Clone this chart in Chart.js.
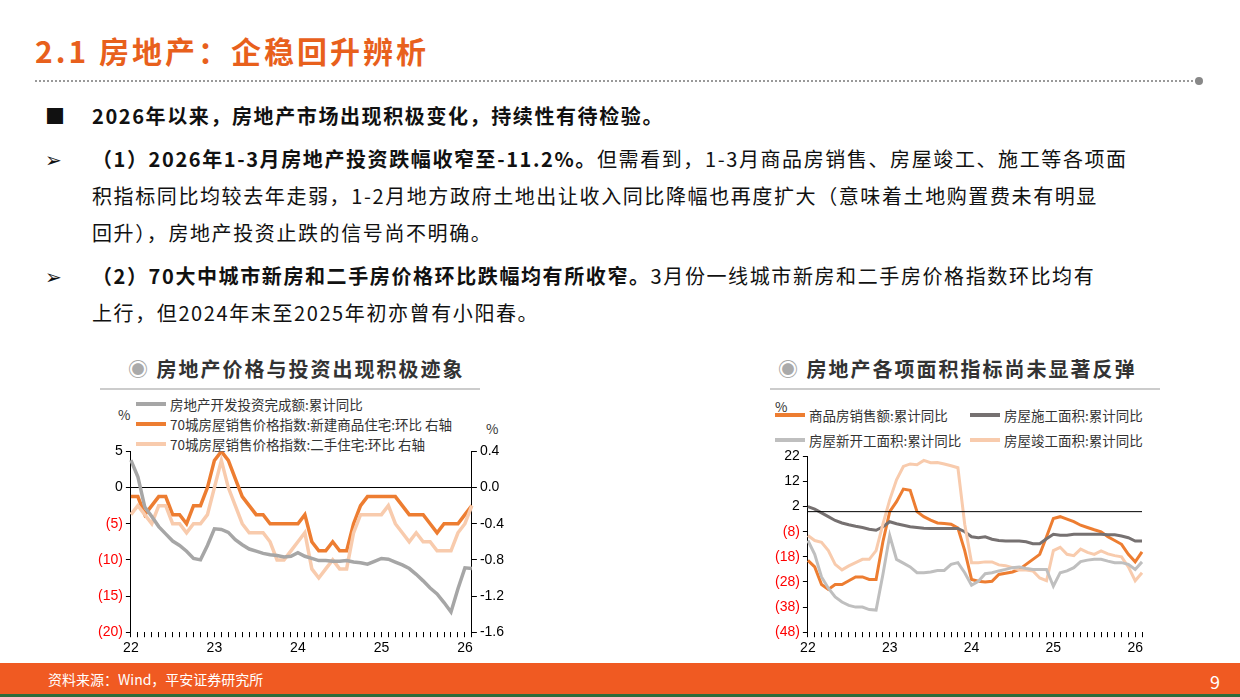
<!DOCTYPE html>
<html><head><meta charset="utf-8">
<script src="https://cdn.jsdelivr.net/npm/chart.js@4"></script>
<style>
body{margin:0;width:1240px;height:697px;position:relative;overflow:hidden;background:#fff;font-family:"Noto Sans CJK SC","Liberation Sans",sans-serif;}
.abs{position:absolute;white-space:nowrap}
#title{left:35px;top:28px;font-size:30px;font-weight:bold;color:#E8601C;letter-spacing:3px}
#dots{left:35px;top:80px;width:1162px;border-top:2px dotted #999;}
#dotend{left:1195px;top:77px;width:8px;height:8px;border-radius:50%;background:#888}
.txt{font-size:20px;color:#111;line-height:37px;letter-spacing:1.6px}
.b{font-weight:bold}
.ct{font-size:20px;font-weight:bold;color:#333;letter-spacing:2px}
.ct span{color:#aaa}
.hl{border-top:2px solid #ccc;height:0}
.lg{font-size:13.5px;color:#333;display:flex;align-items:center}
.lg i{display:inline-block;width:30px;height:4px;margin-right:4px}
#foot{left:0;top:663px;width:1240px;height:31px;background:#F05A22;}
#foot2{left:0;top:694px;width:1240px;height:3px;background:#2E6B3A;}
canvas{position:absolute}
</style></head><body>
<div class="abs" id="title">2.1 房地产：企稳回升辨析</div>
<div class="abs" id="dots"></div><div class="abs" id="dotend"></div>
<div class="abs txt b" style="left:45px;top:97px">■</div>
<div class="abs txt b" style="left:92px;top:97px">2026年以来，房地产市场出现积极变化，持续性有待检验。</div>
<div class="abs txt" style="left:45px;top:140px">➢</div>
<div class="abs txt" style="left:92px;top:140px"><span class="b">（1）2026年1-3月房地产投资跌幅收窄至-11.2%。</span>但需看到，1-3月商品房销售、房屋竣工、施工等各项面<br>积指标同比均较去年走弱，1-2月地方政府土地出让收入同比降幅也再度扩大（意味着土地购置费未有明显<br>回升），房地产投资止跌的信号尚不明确。</div>
<div class="abs txt" style="left:45px;top:257px">➢</div>
<div class="abs txt" style="left:92px;top:257px"><span class="b">（2）70大中城市新房和二手房价格环比跌幅均有所收窄。</span>3月份一线城市新房和二手房价格指数环比均有<br>上行，但2024年末至2025年初亦曾有小阳春。</div>

<div class="abs ct" style="left:128px;top:354px"><span>◉</span> 房地产价格与投资出现积极迹象</div>
<div class="abs hl" style="left:100px;top:388px;width:380px"></div>
<div class="abs lg" style="left:136px;top:394px"><i style="background:#A6A6A6"></i>房地产开发投资完成额:累计同比</div>
<div class="abs lg" style="left:136px;top:414px"><i style="background:#ED7D31"></i>70城房屋销售价格指数:新建商品住宅:环比 右轴</div>
<div class="abs lg" style="left:136px;top:434px"><i style="background:#F8CBAD"></i>70城房屋销售价格指数:二手住宅:环比 右轴</div>
<div class="abs lg" style="left:118px;top:404px">%</div>
<div class="abs lg" style="left:486px;top:418px">%</div>

<div class="abs ct" style="left:778px;top:354px"><span>◉</span> 房地产各项面积指标尚未显著反弹</div>
<div class="abs hl" style="left:770px;top:388px;width:390px"></div>
<div class="abs lg" style="left:775px;top:396px">%</div>
<div class="abs lg" style="left:775px;top:405px"><i style="background:#ED7D31"></i>商品房销售额:累计同比</div>
<div class="abs lg" style="left:970px;top:405px"><i style="background:#767171"></i>房屋施工面积:累计同比</div>
<div class="abs lg" style="left:775px;top:430px"><i style="background:#BFBFBF"></i>房屋新开工面积:累计同比</div>
<div class="abs lg" style="left:970px;top:430px"><i style="background:#F8CBAD"></i>房屋竣工面积:累计同比</div>

<canvas id="c1" style="left:95px;top:440px;width:412px;height:220px" width="412" height="220"></canvas>
<canvas id="c2" style="left:772px;top:445px;width:388px;height:215px" width="388" height="215"></canvas>

<div class="abs" id="foot"></div><div class="abs" id="foot2"></div>
<div class="abs" style="left:48px;top:669px;font-size:14px;color:#fff">资料来源：Wind，平安证券研究所</div>
<div class="abs" style="left:1210px;top:668px;font-size:18px;color:#fff">9</div>

<script>
const months = [];
for (let y = 22; y <= 26; y++) for (let m = 1; m <= 12; m++) months.push(y + '-' + m);
const labels = months.slice(0, 50);

// Left chart
const investYoY = [3.8,1.5,-2.7,-4.0,-5.4,-6.4,-7.4,-8.0,-8.8,-9.8,-10.0,-8,-5.7,-5.8,-6.2,-7.2,-7.9,-8.5,-8.8,-9.1,-9.3,-9.4,-9.6,-9.5,-9.0,-9.5,-9.8,-10.1,-10.1,-10.2,-10.2,-10.1,-10.3,-10.4,-10.6,-10.2,-9.8,-9.9,-10.3,-10.7,-11.2,-12.0,-12.9,-13.9,-14.7,-15.9,-17.2,-14,-11.1,-11.2];
const newHomeMoM = [-0.1,-0.1,-0.3,-0.2,-0.1,-0.1,-0.3,-0.3,-0.4,-0.2,-0.2,0.0,0.3,0.4,0.3,0.1,-0.1,-0.2,-0.3,-0.3,-0.4,-0.4,-0.4,-0.4,-0.4,-0.3,-0.6,-0.7,-0.7,-0.6,-0.7,-0.7,-0.4,-0.2,-0.1,-0.1,-0.1,-0.1,-0.1,-0.2,-0.3,-0.3,-0.3,-0.4,-0.5,-0.4,-0.4,-0.4,-0.3,-0.2];
const secondHandMoM = [-0.3,-0.2,-0.3,-0.4,-0.2,-0.2,-0.4,-0.4,-0.5,-0.4,-0.4,-0.3,0.0,0.3,0.0,-0.2,-0.4,-0.5,-0.5,-0.5,-0.6,-0.8,-0.8,-0.7,-0.6,-0.5,-0.9,-1.0,-0.9,-0.8,-0.9,-0.9,-0.5,-0.3,-0.3,-0.3,-0.3,-0.2,-0.4,-0.5,-0.6,-0.5,-0.6,-0.6,-0.7,-0.7,-0.7,-0.5,-0.4,-0.2];

// Right chart
const salesYoY = [-19.4,-22,-29,-31,-29,-29,-27.5,-26,-26,-27,-27,-12,0,4,9,8.5,0,-2,-3.4,-4.5,-4.7,-5,-6.5,-15.5,-27,-27.7,-28,-27.7,-25,-24.5,-24,-23,-21,-19,-17,-10,-2.7,-2,-3,-4,-5.4,-6.3,-7.2,-8,-10,-11.5,-13,-17,-20,-16];
const underConstrYoY = [2,1,-0.5,-2,-3.5,-4.5,-5.2,-5.8,-6.3,-7,-7.4,-6,-4,-4.8,-5.4,-6,-6.3,-6.6,-6.7,-6.7,-6.7,-6.7,-6.7,-8,-10,-10.4,-10,-11,-11.5,-11.7,-11.7,-11.7,-12,-12.8,-12.8,-10.8,-9,-9.4,-9.4,-9,-9,-9,-9,-9,-9.2,-9.2,-9.7,-10.4,-11.7,-11.7];
const newStartsYoY = [-11.5,-17,-26,-30.5,-34,-36,-37.3,-38,-38,-39,-39.2,-25,-9.5,-19,-20.5,-22,-24.3,-24.3,-24,-23.4,-23.4,-21,-20.3,-24.3,-29.3,-27.7,-24.7,-24.3,-23.6,-23,-22.3,-22,-22.6,-23,-23,-23,-29.7,-24.3,-23.6,-22.3,-19.9,-19.3,-19,-19,-19.7,-20.3,-20.3,-21,-23,-20];
const completedYoY = [-9.5,-11.5,-12.2,-15.5,-21,-23.2,-21.6,-20.3,-19,-19,-15.5,-5,4.7,12.7,18,19,18.7,20.4,19.5,19.6,19,18.3,17.5,-5,-20.3,-20.3,-20,-20,-21.2,-21.5,-22.3,-23.2,-23.2,-23.6,-26.4,-27.5,-15.5,-14.2,-17,-17.5,-14.9,-16.2,-17,-15.6,-16.8,-17.5,-18,-22,-27.5,-24.3];

const font = {family:'"Liberation Sans",sans-serif', size:14};
const xAxis = {
  grid:{display:true, drawOnChartArea:false, color:'#000', tickLength:5},
  border:{display:false},
  ticks:{autoSkip:false, maxRotation:0, color:'#000', font,
    callback:(v,i)=> i%12===0 ? String(22+i/12) : ''}
};
const fmt = v => v < 0 ? '(' + Math.abs(v) + ')' : String(v);
const line = (data, color, w, axis) => ({data, borderColor:color, borderWidth:w, pointRadius:0, tension:0, yAxisID:axis||'y', fill:false});

new Chart(document.getElementById('c1'), {
  type:'line',
  data:{labels, datasets:[
    line(investYoY,'#A6A6A6',3.5,'y'),
    line(secondHandMoM,'#F8CBAD',3.5,'y1'),
    line(newHomeMoM,'#ED7D31',3.5,'y1')
  ]},
  options:{responsive:false, animation:false, layout:{padding:{top:8,right:0,left:0}},
    plugins:{legend:{display:false}, tooltip:{enabled:false}},
    scales:{
      x:xAxis,
      y:{min:-20,max:5,position:'left',
        ticks:{stepSize:5, font, color:c=>c.tick.value<0?'#FF0000':'#000', callback:fmt},
        grid:{color:c=>c.tick.value===0?'#000':'transparent', tickColor:'#000', tickLength:5},
        border:{color:'#000'}},
      y1:{min:-1.6,max:0.4,position:'right',
        ticks:{stepSize:0.4, font, color:'#000', callback:v=>v.toFixed(1)},
        grid:{drawOnChartArea:false, tickColor:'#000', tickLength:5},
        border:{color:'#000'}}
    }}
});

new Chart(document.getElementById('c2'), {
  type:'line',
  data:{labels, datasets:[
    line(newStartsYoY,'#BFBFBF',3),
    line(completedYoY,'#F8CBAD',3),
    line(underConstrYoY,'#767171',3),
    line(salesYoY,'#ED7D31',3)
  ]},
  options:{responsive:false, animation:false, layout:{padding:{top:6,right:18}},
    plugins:{legend:{display:false}, tooltip:{enabled:false}},
    scales:{
      x:xAxis,
      y:{min:-48,max:22,
        ticks:{stepSize:10, font, color:c=>c.tick.value<0?'#FF0000':'#000', callback:fmt},
        grid:{color:'transparent', tickColor:'#000', tickLength:5},
        border:{color:'#000'}}
    }},
  plugins:[{id:'zero', afterDatasetsDraw(ch){
    const {ctx, chartArea:a, scales:{y}} = ch; const py = y.getPixelForValue(0);
    ctx.save(); ctx.strokeStyle='#000'; ctx.lineWidth=1; ctx.beginPath(); ctx.moveTo(a.left,py); ctx.lineTo(a.right,py); ctx.stroke(); ctx.restore();
  }}]
});
</script>
</body></html>
